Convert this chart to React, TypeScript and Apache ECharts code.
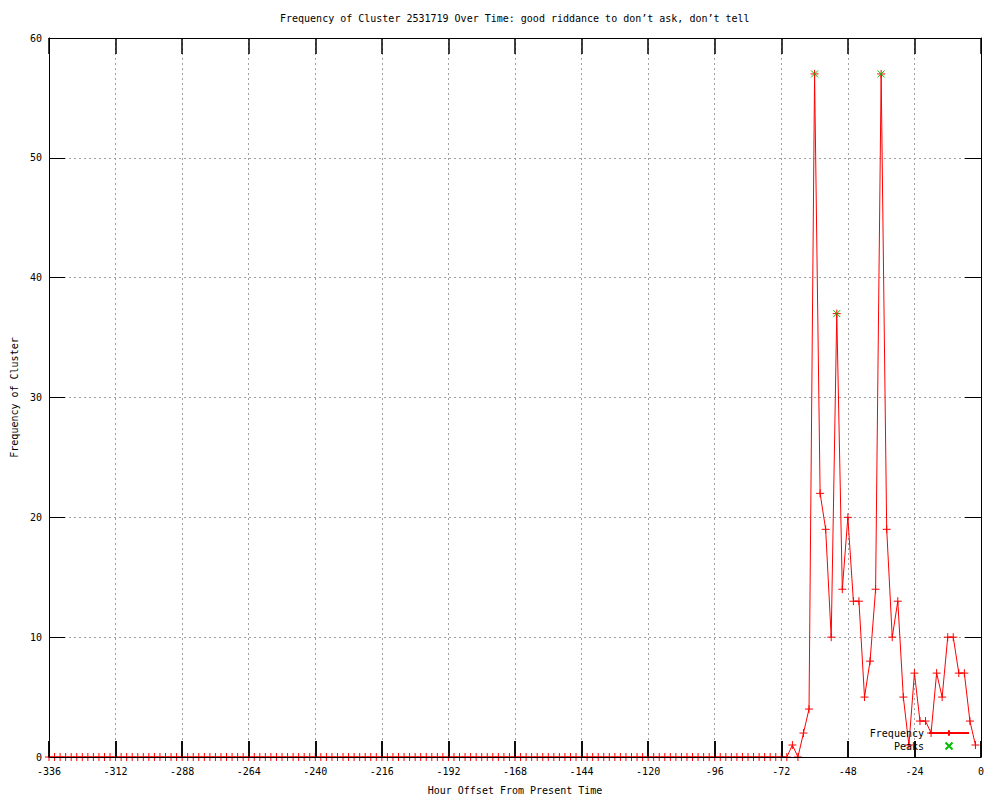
import React, { useEffect, useRef } from "react";
import * as echarts from "echarts";

// Hour offsets: every 2 hours from -336 to -2
const hours: number[] = [];
for (let h = -336; h <= -2; h += 2) hours.push(h);

// Frequency values (one per hour offset above)
const frequency: number[] = [
  0, 0, 0, 0, 0, 0, 0, 0, 0, 0,
  0, 0, 0, 0, 0, 0, 0, 0, 0, 0,
  0, 0, 0, 0, 0, 0, 0, 0, 0, 0,
  0, 0, 0, 0, 0, 0, 0, 0, 0, 0,
  0, 0, 0, 0, 0, 0, 0, 0, 0, 0,
  0, 0, 0, 0, 0, 0, 0, 0, 0, 0,
  0, 0, 0, 0, 0, 0, 0, 0, 0, 0,
  0, 0, 0, 0, 0, 0, 0, 0, 0, 0,
  0, 0, 0, 0, 0, 0, 0, 0, 0, 0,
  0, 0, 0, 0, 0, 0, 0, 0, 0, 0,
  0, 0, 0, 0, 0, 0, 0, 0, 0, 0,
  0, 0, 0, 0, 0, 0, 0, 0, 0, 0,
  0, 0, 0, 0, 0, 0, 0, 0, 0, 0,
  0, 0, 0, 0,
  1, 0, 2, 4, 57, 22, 19, 10, 37, 14,
  20, 13, 13, 5, 8, 14, 57, 19, 10, 13,
  5, 1, 7, 3, 3, 2, 7, 5, 10, 10,
  7, 7, 3, 1,
];

// Peaks
const peakHours: number[] = [-60, -52, -36];
const peakValues: number[] = [57, 37, 57];

const titleText =
  "Frequency of Cluster 2531719 Over Time: good riddance to don\u2019t ask, don\u2019t tell";
const xAxisName = "Hour Offset From Present Time";
const yAxisName = "Frequency of Cluster";

const FONT = "DejaVu Sans Mono";
const PLUS = "path://M5,0L5,10M0,5L10,5";
const CROSS = "path://M0,0L10,10M10,0L0,10";

export default function App() {
  const ref = useRef<HTMLDivElement>(null);

  useEffect(() => {
    if (!ref.current) return;
    const chart = echarts.init(ref.current, undefined, { renderer: "svg" });
    const gridLine = { show: true, lineStyle: { color: "#a0a0a0", type: [2, 3] as any, width: 1 } };
    const tickY = { show: true, inside: true, length: 16, lineStyle: { color: "#000", width: 1 } };
    const tickX = { show: true, inside: true, length: 16, lineStyle: { color: "#000", width: 1.5 } };
    const axLine = { show: true, onZero: false, lineStyle: { color: "#000", width: 1 } };
    const label = { fontFamily: FONT, fontSize: 10, color: "#000" };

    chart.setOption({
      animation: false,
      backgroundColor: "#fff",
      title: {
        text: titleText,
        left: 280,
        top: 13,
        padding: 0,
        textStyle: { fontFamily: FONT, fontSize: 10, fontWeight: "normal", color: "#000" },
      },
      grid: { left: 49, right: 19, top: 38, bottom: 40 },
      legend: {
        orient: "vertical",
        align: "right",
        right: 30,
        top: 728,
        itemWidth: 40,
        itemHeight: 7,
        itemGap: 3,
        padding: 0,
        textStyle: { fontFamily: FONT, fontSize: 10, color: "#000" },
        data: ["Frequency", "Peaks"],
      },
      xAxis: [
        {
          type: "value",
          position: "bottom",
          min: -336,
          max: 0,
          interval: 24,
          name: xAxisName,
          nameLocation: "middle",
          nameGap: 28,
          nameTextStyle: { fontFamily: FONT, fontSize: 10, color: "#000" },
          axisLine: { show: false, onZero: false },
          axisTick: tickX,
          axisLabel: { ...label, margin: 9 },
          splitLine: gridLine,
        },
        {
          type: "value",
          position: "bottom",
          offset: 0,
          min: -336,
          max: 0,
          interval: 24,
          z: 5,
          axisLine: axLine,
          axisTick: tickX,
          axisLabel: { show: false },
          splitLine: { show: false },
        },
        {
          type: "value",
          position: "top",
          offset: 0,
          min: -336,
          max: 0,
          interval: 24,
          z: 5,
          axisLine: axLine,
          axisTick: tickX,
          axisLabel: { show: false },
          splitLine: { show: false },
        },
      ],
      yAxis: [
        {
          type: "value",
          position: "left",
          min: 0,
          max: 60,
          interval: 10,
          name: yAxisName,
          nameLocation: "middle",
          nameGap: 30,
          nameTextStyle: { fontFamily: FONT, fontSize: 10, color: "#000" },
          axisLine: axLine,
          axisTick: tickY,
          axisLabel: { ...label, margin: 7 },
          splitLine: gridLine,
        },
        {
          type: "value",
          position: "right",
          offset: 0,
          min: 0,
          max: 60,
          interval: 10,
          z: 5,
          axisLine: axLine,
          axisTick: tickY,
          axisLabel: { show: false },
          splitLine: { show: false },
        },
      ],
      series: [
        {
          name: "Frequency",
          type: "line",
          xAxisIndex: 0,
          yAxisIndex: 0,
          data: hours.map((h, i) => [h, frequency[i]]),
          symbol: PLUS,
          symbolSize: 8,
          showAllSymbol: true,
          clip: false,
          lineStyle: { color: "#ff0000", width: 1 },
          itemStyle: { color: "#ff0000", borderColor: "#ff0000", borderWidth: 1 },
          z: 2,
        },
        {
          name: "Peaks",
          type: "scatter",
          xAxisIndex: 0,
          yAxisIndex: 0,
          data: peakHours.map((h, i) => [h, peakValues[i]]),
          symbol: CROSS,
          symbolSize: 7,
          itemStyle: { color: "#00c000", borderColor: "#00c000", borderWidth: 1, opacity: 1 },
          z: 3,
        },
      ],
    });
    return () => chart.dispose();
  }, []);

  return (
    <div
      ref={ref}
      style={{ position: "absolute", left: 0, top: 0, width: 1000, height: 800, background: "#fff" }}
    />
  );
}
